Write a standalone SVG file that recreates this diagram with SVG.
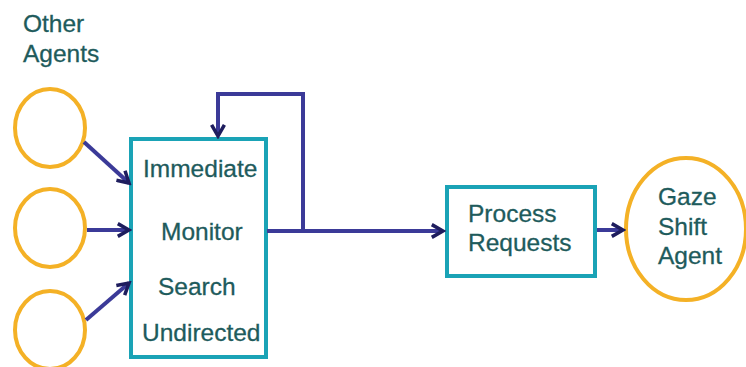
<svg xmlns="http://www.w3.org/2000/svg" width="746" height="367" viewBox="0 0 746 367">
  <style>
    .agent { fill: none; stroke: #f4b126; stroke-width: 4; }
    .box { fill: #ffffff; stroke: #1aa3b6; stroke-width: 4; }
    .lbl { font-family: "Liberation Sans", Arial, sans-serif; font-size: 24.5px; fill: #1e5b5c; stroke: #1e5b5c; stroke-width: 0.3; }
    .wire { fill: none; stroke: #3b3a98; stroke-width: 4; }
  </style>
  <defs>
    <marker id="head" viewBox="0 0 10 10" refX="8" refY="5" markerWidth="4" markerHeight="4" markerUnits="strokeWidth" orient="auto">
      <path d="M1,1 L8,5 L1,9" fill="none" stroke="#1e1d5e" stroke-width="2.2" stroke-linejoin="miter"/>
    </marker>
  </defs>
  <rect width="746" height="367" fill="#ffffff"/>

  <g id="other-agents-label">
    <text class="lbl" x="23" y="32">Other</text>
    <text class="lbl" x="23" y="62">Agents</text>
  </g>

  <g id="agent-1"><ellipse class="agent" cx="50" cy="128" rx="35" ry="39"/></g>
  <g id="agent-2"><ellipse class="agent" cx="50" cy="228" rx="35" ry="39"/></g>
  <g id="agent-3"><ellipse class="agent" cx="50" cy="330" rx="35" ry="39"/></g>

  <g id="attention-box">
    <rect class="box" x="131" y="139" width="135" height="218"/>
    <text class="lbl" x="143" y="177">Immediate</text>
    <text class="lbl" x="161" y="240">Monitor</text>
    <text class="lbl" x="158" y="295">Search</text>
    <text class="lbl" x="142" y="341">Undirected</text>
  </g>

  <g id="process-requests">
    <rect class="box" x="447" y="187" width="148" height="89"/>
    <text class="lbl" x="468" y="222">Process</text>
    <text class="lbl" x="468" y="251">Requests</text>
  </g>

  <g id="gaze-shift-agent">
    <ellipse class="agent" cx="686" cy="229" rx="60" ry="71"/>
    <text class="lbl" x="658" y="205">Gaze</text>
    <text class="lbl" x="658" y="235">Shift</text>
    <text class="lbl" x="658" y="264">Agent</text>
  </g>

  <g id="connectors">
    <path class="wire" d="M84,142 L129,183" marker-end="url(#head)"/>
    <path class="wire" d="M87,230 L129,230" marker-end="url(#head)"/>
    <path class="wire" d="M86,320 L129,283" marker-end="url(#head)"/>
    <path class="wire" d="M267,231 L443,231" marker-end="url(#head)"/>
    <path class="wire" d="M303,231 L303,94 L218,94 L218,136" marker-end="url(#head)"/>
    <path class="wire" d="M597,230 L623,230" marker-end="url(#head)"/>
  </g>
</svg>
